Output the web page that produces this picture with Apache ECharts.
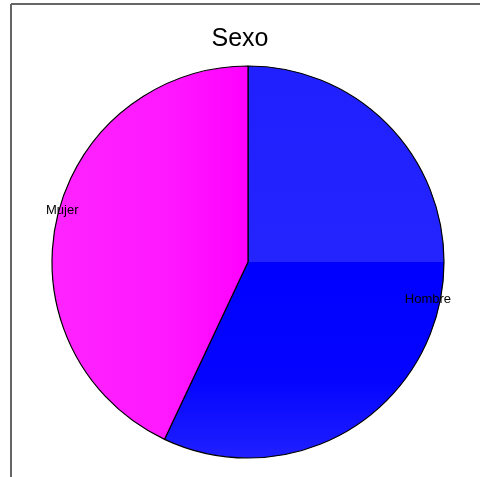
<!DOCTYPE html>
<html>
<head>
<meta charset="utf-8">
<script src="https://cdn.jsdelivr.net/npm/echarts@6/dist/echarts.min.js"></script>
<style>html,body{margin:0;padding:0;background:#fff}#c{width:480px;height:477px}</style>
</head>
<body>
<div id="c"></div>
<script>
var titleText = 'Sexo';
var categories = ['Hombre', 'Mujer'];
var values = [57, 43];

var fills = [
  {type:'linear',x:0,y:0,x2:0,y2:1,colorStops:[
    {offset:0,color:'#2020ff'},{offset:0.5,color:'#2424ff'},
    {offset:0.5,color:'#0000ff'},{offset:0.8,color:'#0404ff'},{offset:1,color:'#2020ff'}]},
  {type:'linear',x:0,y:0,x2:1,y2:0,colorStops:[
    {offset:0,color:'#ff24ff'},{offset:0.6,color:'#ff18ff'},{offset:1,color:'#ff00ff'}]}
];
// label anchor placement (text layout only)
var labelPlace = [
  {x:451, y:299, align:'right'},
  {x:46, y:210, align:'left'}
];

var data = categories.map(function(c,i){
  return {name:c, value:values[i], itemStyle:{color:fills[i]}};
});

var chart = echarts.init(document.getElementById('c'), null, {renderer:'canvas'});
chart.setOption({
  animation:false,
  title:{text:titleText,left:'center',top:22,textStyle:{fontFamily:'Liberation Sans, Arial',fontSize:25,fontWeight:'normal',color:'#000'}},
  graphic:[
    {type:'line',shape:{x1:11,y1:4,x2:480,y2:4},style:{stroke:'#666',lineWidth:2}},
    {type:'line',shape:{x1:11,y1:4,x2:11,y2:477},style:{stroke:'#666',lineWidth:2}}
  ],
  series:[{
    type:'pie',
    center:[248,262],
    radius:[0,196],
    startAngle:90,
    clockwise:true,
    avoidLabelOverlap:false,
    itemStyle:{borderColor:'#000',borderWidth:1.2},
    label:{show:true,position:'outside',formatter:'{b}',color:'#000',fontFamily:'Liberation Sans, Arial',fontSize:13},
    labelLine:{show:false},
    labelLayout:function(p){
      var s = labelPlace[p.dataIndex];
      return {x:s.x, y:s.y, align:s.align, verticalAlign:'middle'};
    },
    data:data
  }]
});
</script>
</body>
</html>
